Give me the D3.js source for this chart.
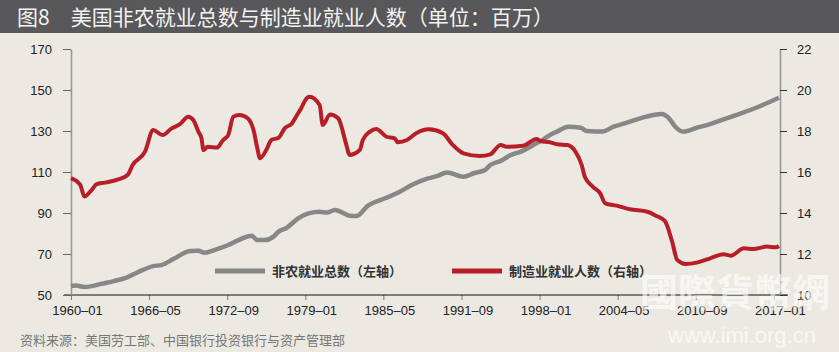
<!DOCTYPE html>
<html>
<head>
<meta charset="utf-8">
<script src="https://cdn.jsdelivr.net/npm/d3@7"></script>
<style>
  html, body { margin: 0; padding: 0; background: #ECE9E3; }
  svg { display: block; }
  .tick text { font-family: "Liberation Sans", Arial, sans-serif; font-size: 13px; fill: #222; }
</style>
</head>
<body>
<div id="container"></div>
<script>
/* CONSTANTS AND GLOBALS */
const width = 839, height = 352;
const plot = { left: 71, right: 780, top: 49, bottom: 295 };

/* DATA (millions) */
const xTickLabels = ["1960-01", "1966-05", "1972-09", "1979-01", "1985-05",
                     "1991-09", "1998-01", "2004-05", "2010-09", "2017-01"];

// 非农就业总数 (left axis)
const nfpDates = ["1960-01","1960-06","1961-02","1961-08","1962-06","1963-07","1964-07","1965-06",
  "1966-09","1967-05","1968-06","1969-09","1970-05","1970-11","1971-09","1972-10","1973-08",
  "1974-09","1975-02","1975-10","1976-06","1976-11","1977-07","1978-06","1979-05","1980-03",
  "1980-10","1981-06","1982-08","1983-03","1984-02","1985-02","1985-10","1986-09","1987-10",
  "1988-11","1989-09","1990-07","1991-11","1992-09","1993-08","1994-01","1994-11","1995-08",
  "1996-08","1997-07","1998-02","1998-11","1999-06","2000-05","2001-05","2001-11","2003-02",
  "2004-01","2005-02","2006-03","2007-04","2007-12","2008-07","2009-01","2009-09","2010-10",
  "2011-11","2012-12","2014-05","2015-09","2017-06"];
const nfpValues = [54.4, 54.6, 53.9, 54.2, 55.4, 56.8, 58.5, 61.1,
  64.1, 64.6, 67.9, 71.5, 71.6, 70.6, 72.0, 74.4, 76.8,
  78.9, 76.8, 76.8, 78.5, 80.9, 82.8, 87.4, 89.9, 90.6,
  90.2, 91.5, 88.7, 88.5, 93.6, 96.3, 97.9, 100.4, 104.0,
  106.6, 108.0, 109.7, 107.7, 109.4, 111.0, 113.4, 115.4, 118.0,
  120.2, 123.2, 125.1, 128.0, 129.7, 132.1, 131.6, 130.0, 129.7,
  132.1, 134.1, 136.2, 137.8, 138.3, 136.2, 132.1, 129.7, 131.6,
  133.4, 135.7, 138.6, 141.6, 146.2];

// 制造业就业人数 (right axis)
const mfgDates = ["1960-01","1960-10","1961-02","1961-09","1962-02","1962-10","1963-11","1964-08",
  "1965-01","1966-01","1966-09","1967-06","1968-03","1968-11","1969-07","1969-12","1970-05",
  "1970-08","1970-10","1971-02","1971-11","1972-05","1972-10","1973-03","1973-09","1974-05",
  "1974-11","1975-02","1975-05","1975-11","1976-04","1976-11","1977-05","1977-12","1978-05",
  "1978-09","1979-01","1979-05","1980-03","1980-06","1981-01","1981-09","1982-05","1982-08",
  "1983-06","1983-09","1984-04","1984-10","1985-08","1986-04","1986-07","1987-04","1988-01",
  "1989-01","1990-03","1990-12","1991-11","1993-03","1994-01","1994-11","1995-05","1996-09",
  "1997-10","1998-02","1998-11","1999-06","2000-04","2000-12","2001-06","2001-09","2002-05",
  "2002-12","2003-05","2004-04","2005-05","2006-10","2007-07","2008-03","2008-10","2009-03",
  "2009-11","2010-10","2011-11","2012-12","2013-07","2014-08","2015-05","2016-06","2017-03",
  "2017-06"];
const mfgValues = [15.70, 15.37, 14.80, 15.12, 15.41, 15.48, 15.64, 15.85,
  16.34, 16.99, 18.05, 17.80, 18.13, 18.33, 18.70, 18.54, 17.97,
  17.64, 17.07, 17.23, 17.19, 17.56, 17.80, 18.70, 18.78, 18.62,
  17.97, 17.23, 16.67, 17.07, 17.56, 17.67, 18.13, 18.37, 18.78,
  19.11, 19.51, 19.67, 19.27, 18.29, 18.81, 18.62, 17.32, 16.83,
  17.07, 17.56, 17.97, 18.10, 17.72, 17.64, 17.45, 17.56, 17.89,
  18.08, 17.89, 17.35, 16.91, 16.78, 16.86, 17.32, 17.23, 17.28,
  17.61, 17.51, 17.45, 17.35, 17.32, 16.99, 16.34, 15.77, 15.28,
  14.96, 14.47, 14.36, 14.18, 14.06, 13.85, 13.61, 12.60, 11.71,
  11.51, 11.58, 11.79, 11.99, 11.92, 12.28, 12.24, 12.36, 12.33,
  12.39];

const leftTicks = [50, 70, 90, 110, 130, 150, 170];
const rightTicks = [10, 12, 14, 16, 18, 20, 22];

const titleText = "图8　美国非农就业总数与制造业就业人数（单位：百万）";
const legendLabels = ["非农就业总数（左轴）", "制造业就业人数（右轴）"];
const sourceText = "资料来源：美国劳工部、中国银行投资银行与资产管理部";

const parseMonth = d3.timeParse("%Y-%m");
const nfp = nfpDates.map((d, i) => ({ date: parseMonth(d), value: nfpValues[i] }));
const mfg = mfgDates.map((d, i) => ({ date: parseMonth(d), value: mfgValues[i] }));

const svg = d3.select("#container")
  .append("svg")
  .attr("width", width)
  .attr("height", height);

svg.append("rect").attr("width", width).attr("height", height).attr("fill", "#ECE9E3");

/* TITLE BAR */
svg.append("rect").attr("width", width).attr("height", 33).attr("fill", "#58575A");
svg.append("text")
  .attr("x", 17).attr("y", 25)
  .attr("fill", "#f2f2f2")
  .style("font-family", "'Noto Sans CJK SC', 'Noto Sans', sans-serif")
  .style("font-size", "21px")
  .text(titleText);

/* SCALES */
const x = d3.scaleTime()
  .domain([parseMonth("1960-01"), parseMonth("2017-07")])
  .range([plot.left, plot.right]);
const yLeft = d3.scaleLinear().domain([50, 170]).range([plot.bottom, plot.top]);
const yRight = d3.scaleLinear().domain([10, 22]).range([plot.bottom, plot.top]);

/* AXES */
const fmt = d3.timeFormat("%Y–%m");
const xAxis = svg.append("g")
  .attr("transform", `translate(0,${plot.bottom})`)
  .call(d3.axisBottom(x).tickValues(xTickLabels.map(parseMonth)).tickFormat(fmt).tickSize(5).tickSizeOuter(0));
xAxis.select(".domain").remove();
xAxis.selectAll(".tick line").attr("stroke", "#777");
xAxis.selectAll(".tick text").attr("dx", 6).attr("dy", "0.95em");
svg.append("line")
  .attr("x1", 64).attr("x2", 788)
  .attr("y1", plot.bottom).attr("y2", plot.bottom)
  .attr("stroke", "#111").attr("stroke-width", 1);

const leftAxis = svg.append("g")
  .attr("transform", `translate(${plot.left},0)`)
  .call(d3.axisLeft(yLeft).tickValues(leftTicks).tickSize(8).tickSizeOuter(0));
leftAxis.select(".domain").attr("stroke", "#999").attr("stroke-width", 1.6);
leftAxis.selectAll(".tick line").attr("stroke", "#666");
leftAxis.selectAll(".tick text").attr("x", -19);

const rightAxis = svg.append("g")
  .attr("transform", `translate(${plot.right},0)`)
  .call(d3.axisRight(yRight).tickValues(rightTicks).tickSize(7).tickSizeOuter(0));
rightAxis.select(".domain").attr("stroke", "#999").attr("stroke-width", 1.6);
rightAxis.selectAll(".tick line").attr("stroke", "#333");
rightAxis.selectAll(".tick text").attr("x", 17);

/* LINES */
const lineLeft = d3.line().x(d => x(d.date)).y(d => yLeft(d.value)).curve(d3.curveMonotoneX);
const lineRight = d3.line().x(d => x(d.date)).y(d => yRight(d.value)).curve(d3.curveMonotoneX);

svg.append("path").datum(nfp)
  .attr("d", lineLeft)
  .attr("fill", "none").attr("stroke", "#878787").attr("stroke-width", 4.5)
  .attr("stroke-linejoin", "round");
svg.append("path").datum(mfg)
  .attr("d", lineRight)
  .attr("fill", "none").attr("stroke", "#B81E28").attr("stroke-width", 4)
  .attr("stroke-linejoin", "round");

/* LEGEND */
const legend = [
  { label: legendLabels[0], color: "#878787", x: 215 },
  { label: legendLabels[1], color: "#B81E28", x: 452 }
];
const lg = svg.selectAll("g.legend").data(legend).join("g")
  .attr("class", "legend")
  .attr("transform", d => `translate(${d.x},271)`);
lg.append("line").attr("x1", 0).attr("x2", 50)
  .attr("stroke", d => d.color).attr("stroke-width", 5);
lg.append("text").attr("x", 57).attr("y", 5)
  .attr("fill", "#333")
  .style("font-family", "'Noto Sans CJK SC', sans-serif")
  .style("font-size", "13px")
  .style("font-weight", "bold")
  .text(d => d.label);

/* SOURCE */
svg.append("text")
  .attr("x", 20).attr("y", 345)
  .attr("fill", "#777")
  .style("font-family", "'Noto Sans CJK SC', sans-serif")
  .style("font-size", "13px")
  .text(sourceText);

/* WATERMARK */
svg.append("text")
  .attr("x", 640).attr("y", 306)
  .attr("fill", "#fff").attr("opacity", 0.6)
  .style("font-family", "'Noto Sans CJK TC', sans-serif")
  .style("font-size", "38px")
  .style("font-weight", "bold")
  .text("國際貨幣網");
svg.append("text")
  .attr("x", 668).attr("y", 343)
  .attr("fill", "#fff").attr("opacity", 0.7)
  .style("font-family", "'Liberation Sans', sans-serif")
  .style("font-size", "22px")
  .text("www.imi.org.cn");
</script>
</body>
</html>
